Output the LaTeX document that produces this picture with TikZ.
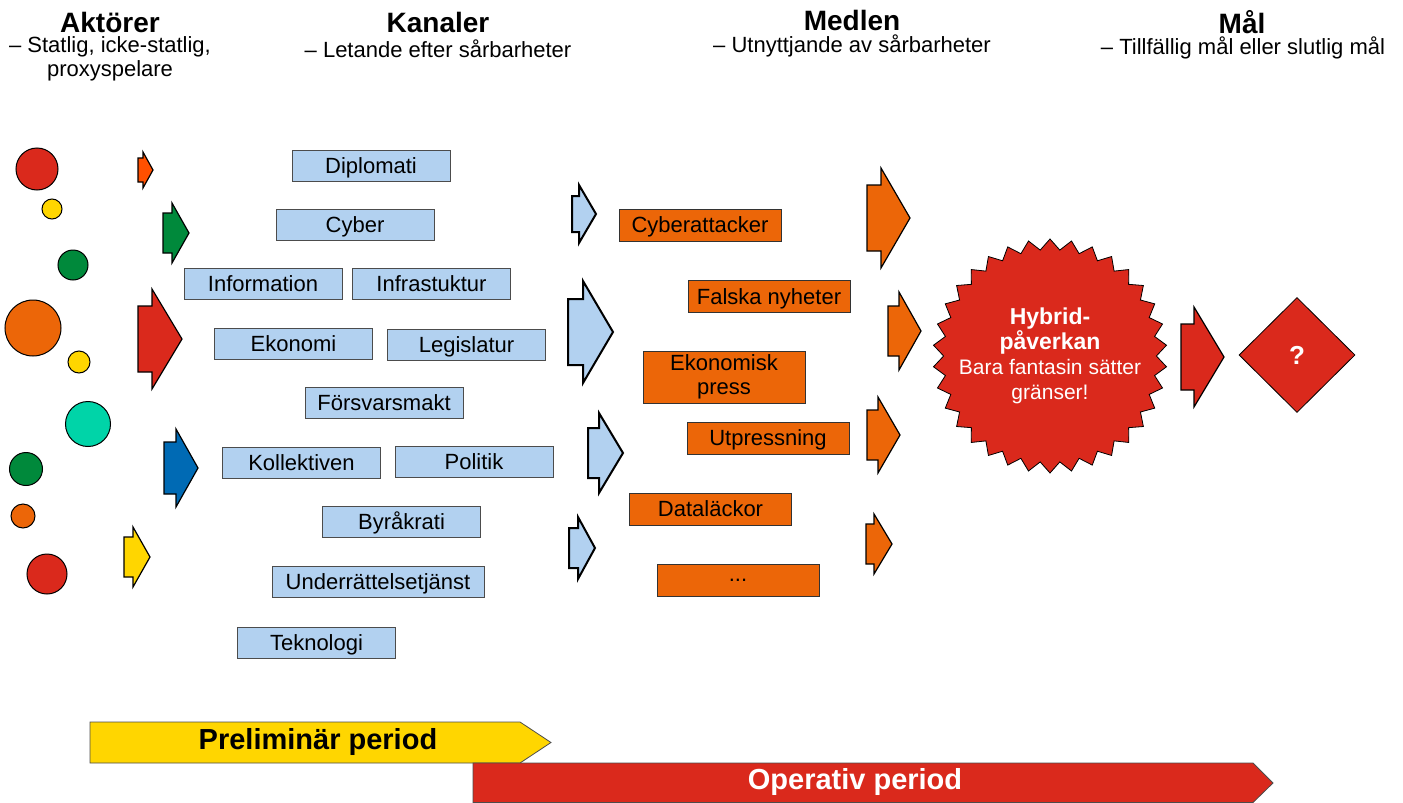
\documentclass[tikz,border=0pt]{standalone}
\usepackage{fontspec}
\setmainfont{Liberation Sans}
\usepackage{xcolor}
\usepackage{tikz}
\usetikzlibrary{shapes.geometric}

\definecolor{roed}{RGB}{218,41,28}
\definecolor{gul}{RGB}{255,214,0}
\definecolor{groen}{RGB}{0,137,59}
\definecolor{orangefarg}{RGB}{236,102,8}
\definecolor{orangeroed}{RGB}{255,80,0}
\definecolor{turkos}{RGB}{0,212,168}
\definecolor{blaa}{RGB}{0,106,180}
\definecolor{ljusblaa}{RGB}{178,209,240}

\newcommand{\blockpil}[7][]{%
    \draw[pil,#1] (#2,#5-#6) -- (#3,#5-#6) -- (#3,#5-#7) -- (#4,#5)
        -- (#3,#5+#7) -- (#3,#5+#6) -- (#2,#5+#6) -- cycle;}

\begin{document}
\begin{tikzpicture}[x=1pt,y=-1pt,
    titel/.style={font=\fontsize{28}{30}\selectfont\bfseries},
    undertitel/.style={align=center,font=\fontsize{22}{24}\selectfont},
    aktor/.style={circle,draw=black,line width=1pt,inner sep=0pt},
    pil/.style={draw=black,line width=1.2pt,line join=miter},
    kanal/.style={rectangle,fill=ljusblaa,draw=black!70,line width=1pt,
        minimum width=158pt,minimum height=31pt,inner sep=0pt,
        text height=20pt,text depth=4.2pt,font=\fontsize{22}{24}\selectfont},
    medelbas/.style={rectangle,fill=orangefarg,draw=black!80,line width=1pt,
        minimum width=162pt,minimum height=32pt,inner sep=0pt,align=center,
        font=\fontsize{22}{24}\selectfont},
    medel/.style={medelbas,text height=20pt,text depth=4.2pt},
    period/.style={draw=black!70,line width=0.8pt},
    periodtext/.style={font=\fontsize{29}{30}\selectfont\bfseries}]
                \useasboundingbox (0,0) rectangle (1403,803);

                \node[titel] (aktorer) at (110,22) {Aktörer};
                \node[undertitel] (aktorer-sub) at (110,59) {– Statlig, icke-statlig,\\proxyspelare};
                \node[titel] (kanaler) at (438,22) {Kanaler};
                \node[undertitel] (kanaler-sub) at (438,49) {– Letande efter sårbarheter};
                \node[titel] (medlen) at (852,20) {Medlen};
                \node[undertitel] (medlen-sub) at (852,46) {– Utnyttjande av sårbarheter};
                \node[titel] (maal-titel) at (1242,22) {Mål};
                \node[undertitel] (maal-sub) at (1243,48) {– Tillfällig mål eller slutlig mål};

                \node[aktor,fill=roed,minimum size=42pt] (a1) at (37,169) {};
                \node[aktor,fill=gul,minimum size=20pt] (a2) at (52,209) {};
                \node[aktor,fill=groen,minimum size=30pt] (a3) at (73,265) {};
                \node[aktor,fill=orangefarg,minimum size=56pt] (a4) at (33,328) {};
                \node[aktor,fill=gul,minimum size=22pt] (a5) at (79,362) {};
                \node[aktor,fill=turkos,minimum size=45pt] (a6) at (88,424) {};
                \node[aktor,fill=groen,minimum size=33pt] (a7) at (26,469) {};
                \node[aktor,fill=orangefarg,minimum size=24pt] (a8) at (23,516) {};
                \node[aktor,fill=roed,minimum size=40pt] (a9) at (47,574) {};

                \blockpil[fill=orangeroed]{138}{143}{153}{170}{12}{18}
                \blockpil[fill=groen]{163}{172}{189}{233}{20}{30}
                \blockpil[fill=roed]{138}{152}{182}{339}{33}{50}
                \blockpil[fill=blaa]{164}{176}{198}{468}{26}{39}
                \blockpil[fill=gul]{124}{133}{150}{557}{20}{30}

                \node[kanal] (diplomati) at (371,165.5) {Diplomati};
                \node[kanal] (cyber) at (355,224.5) {Cyber};
                \node[kanal] (information) at (263,284) {Information};
                \node[kanal] (infrastuktur) at (431.5,284) {Infrastuktur};
                \node[kanal] (ekonomi) at (293.5,343.5) {Ekonomi};
                \node[kanal] (legislatur) at (466.5,344.5) {Legislatur};
                \node[kanal] (forsvar) at (384,403) {Försvarsmakt};
                \node[kanal] (kollektiven) at (301.5,462.5) {Kollektiven};
                \node[kanal] (politik) at (474,462) {Politik};
                \node[kanal] (byrakrati) at (401.5,522) {Byråkrati};
                \node[kanal,minimum width=212pt] (underrattelse) at (378,581.5) {Underrättelsetjänst};
                \node[kanal] (teknologi) at (316.5,642.5) {Teknologi};

                \blockpil[fill=ljusblaa,line width=2pt]{572}{579}{596}{214}{18}{29}
                \blockpil[fill=ljusblaa,line width=2pt]{568}{583}{613}{332}{33}{51}
                \blockpil[fill=ljusblaa,line width=2pt]{588}{599}{623}{453}{25}{40}
                \blockpil[fill=ljusblaa,line width=2pt]{569}{578}{595}{548}{20}{31}

                \node[medel] (cyberattacker) at (700,225) {Cyberattacker};
                \node[medel] (falska) at (769,296.5) {Falska nyheter};
                \node[medelbas,minimum height=52pt] (ekpress) at (724,377) {Ekonomisk\\press};
                \node[medel] (utpressning) at (768,438) {Utpressning};
                \node[medel] (datalackor) at (710.5,509) {Dataläckor};
                \node[medelbas] (ovriga) at (738,580) {...};

                \blockpil[fill=orangefarg]{867}{881}{910}{218}{33}{50}
                \blockpil[fill=orangefarg]{888}{899}{921}{331}{25}{39}
                \blockpil[fill=orangefarg]{867}{878}{900}{435}{25}{38}
                \blockpil[fill=orangefarg]{866}{874}{892}{544}{20}{30}

                \node[star,star points=34,star point ratio=1.1,minimum size=234pt,inner sep=0pt,
                    fill=roed,draw=black,line width=0.8pt] (hybrid) at (1050,356) {};
                \node[align=center,text=white,font=\fontsize{21}{25}\selectfont] (hybrid-text) at (1050,356)
                    {{\fontsize{23}{25}\selectfont\bfseries Hybrid-}\\{\fontsize{23}{25}\selectfont\bfseries påverkan}\\Bara fantasin sätter\\gränser!};

                \blockpil[fill=roed]{1181}{1194}{1224}{357}{33}{50}

                \node[diamond,fill=roed,draw=black,line width=0.8pt,minimum width=116pt,minimum height=115pt,
                    inner sep=0pt,text=white,font=\fontsize{26}{26}\selectfont\bfseries] (maal) at (1297,355) {?};

                \draw[period,fill=gul] (90,722) -- (520,722) -- (551,742.5) -- (520,763) -- (90,763) -- cycle;
                \node[periodtext] (preliminar) at (318,742) {Preliminär period};
                \draw[period,fill=roed] (473,763) -- (1253,763) -- (1273,783) -- (1253,802.5) -- (473,802.5) -- cycle;
                \node[periodtext,text=white] (operativ) at (855,782) {Operativ period};
            \end{tikzpicture}
\end{document}
